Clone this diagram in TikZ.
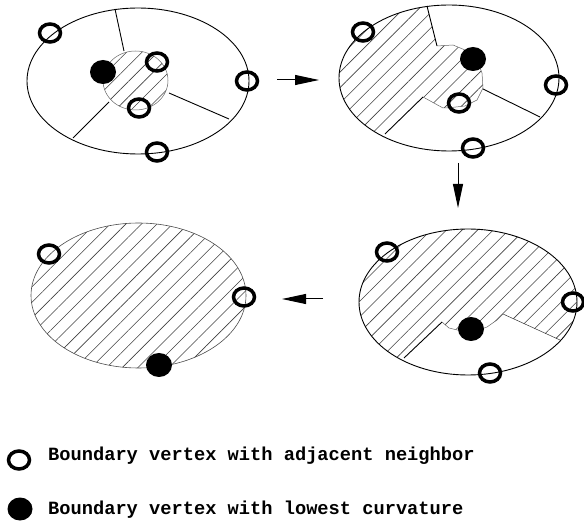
\documentclass[tikz,border=0pt]{standalone}
\usepackage{fontspec}
\setmonofont{Liberation Mono}
\usetikzlibrary{patterns.meta,arrows.meta,shapes.geometric}
\begin{document}
\begin{tikzpicture}[x=1pt,y=-1pt,
  outline/.style={line width=0.9pt},
  hatch/.style={pattern={Lines[angle=45,distance=11pt,line width=0.6pt]},pattern color=black!75},
  thinb/.style={draw=black!60,line width=0.5pt},
  openv/.style={ellipse,draw,line width=3.5pt,minimum width=21pt,minimum height=18pt,inner sep=0pt},
  fullv/.style={ellipse,fill,minimum width=26pt,minimum height=24pt,inner sep=0pt},
  arr/.style={line width=1pt,-{Triangle[length=24pt,width=10pt]}},
  part/.style={line width=0.9pt},
  legend/.style={anchor=base west,font=\ttfamily\bfseries\fontsize{18.7}{22}\selectfont,inner sep=0pt}]
\useasboundingbox (0,0) rectangle (584,521);

% ---------- panel 1 (top left)
\draw[hatch,thinb] (135.5,80.5) ellipse [x radius=32.5,y radius=29.5];
\draw[part] (115,9) -- (124,51);
\draw[part] (169,93) -- (229,119);
\draw[part] (109,102) -- (73,138);
\draw[outline] (138,81) ellipse [x radius=111,y radius=73];
\node[openv] (p1a) at (50,33) {};
\node[openv] (p1b) at (157,62) {};
\node[openv] (p1c) at (247,81) {};
\node[openv] (p1d) at (139,108) {};
\node[openv] (p1e) at (157,152) {};
\node[fullv] (p1f) at (103,72) {};

% ---------- panel 2 (top right)
\begin{scope}
\clip (449,78) ellipse [x radius=110,y radius=73];
\fill[hatch] (424,-6) -- (437,46) -- (453,45) -- (465,50) -- (477,60) -- (482,73) -- (483,88)
  -- (477,100) -- (465,106) -- (447,108) -- (443,108) -- (423,97) -- (370,149)
  -- (320,160) -- (320,-10) -- cycle;
\end{scope}
\draw[thinb] (437,46) -- (453,45) -- (465,50) -- (477,60) -- (482,73) -- (483,88)
  -- (477,100) -- (465,106) -- (447,108) -- (443,108) -- (423,97);
\draw[part] (427,6) -- (437,46);
\draw[part] (423,97) -- (385,134);
\draw[part] (483,89) -- (540,117);
\draw[outline] (449,78) ellipse [x radius=110,y radius=73];
\node[openv] (p2a) at (363,32) {};
\node[openv] (p2b) at (556,85) {};
\node[openv] (p2c) at (459,103) {};
\node[openv] (p2d) at (473,148) {};
\node[fullv] (p2e) at (473,59) {};

% ---------- panel 3 (bottom right)
\begin{scope}
\clip (468,302) ellipse [x radius=109,y radius=73];
\fill[hatch] (380,380) -- (442,322) -- (449,328) -- (470,333) -- (487,327) -- (497,320)
  -- (503,314) -- (590,354) -- (600,360) -- (600,200) -- (340,200) -- (340,380) -- cycle;
\end{scope}
\draw[part] (404,358) -- (442,322);
\draw[thinb] (442,322) -- (449,328) -- (470,333) -- (487,327) -- (497,320) -- (503,314);
\draw[thinb,draw=black!80] (503,314) -- (560,340);
\draw[outline] (468,302) ellipse [x radius=109,y radius=73];
\node[openv] (p3a) at (387,252) {};
\node[openv] (p3b) at (573,302) {};
\node[openv] (p3c) at (490,373) {};
\node[fullv] (p3d) at (471,329) {};

% ---------- panel 4 (bottom left)
\draw[hatch,draw=black!70,line width=0.6pt] (138.5,295.5) ellipse [x radius=107.5,y radius=72.5];
\node[openv] (p4a) at (49,254) {};
\node[openv] (p4b) at (244,297) {};
\node[fullv] (p4c) at (159,365) {};

% ---------- arrows
\coordinate (a1s) at (277,80);  \coordinate (a1e) at (319,80);
\coordinate (a2s) at (458,163); \coordinate (a2e) at (458,208);
\coordinate (a3s) at (323,299); \coordinate (a3e) at (282,299);
\draw[arr] (a1s) -- (a1e);
\draw[arr] (a2s) -- (a2e);
\draw[arr] (a3s) -- (a3e);

% ---------- legend
\node[openv] (l1) at (19,460) {};
\node[fullv,minimum width=25pt,minimum height=23pt] (l2) at (20,509) {};
\node[legend] (t1) at (48,460) {Boundary vertex with adjacent neighbor};
\node[legend] (t2) at (48,514) {Boundary vertex with lowest curvature};
\end{tikzpicture}
\end{document}
